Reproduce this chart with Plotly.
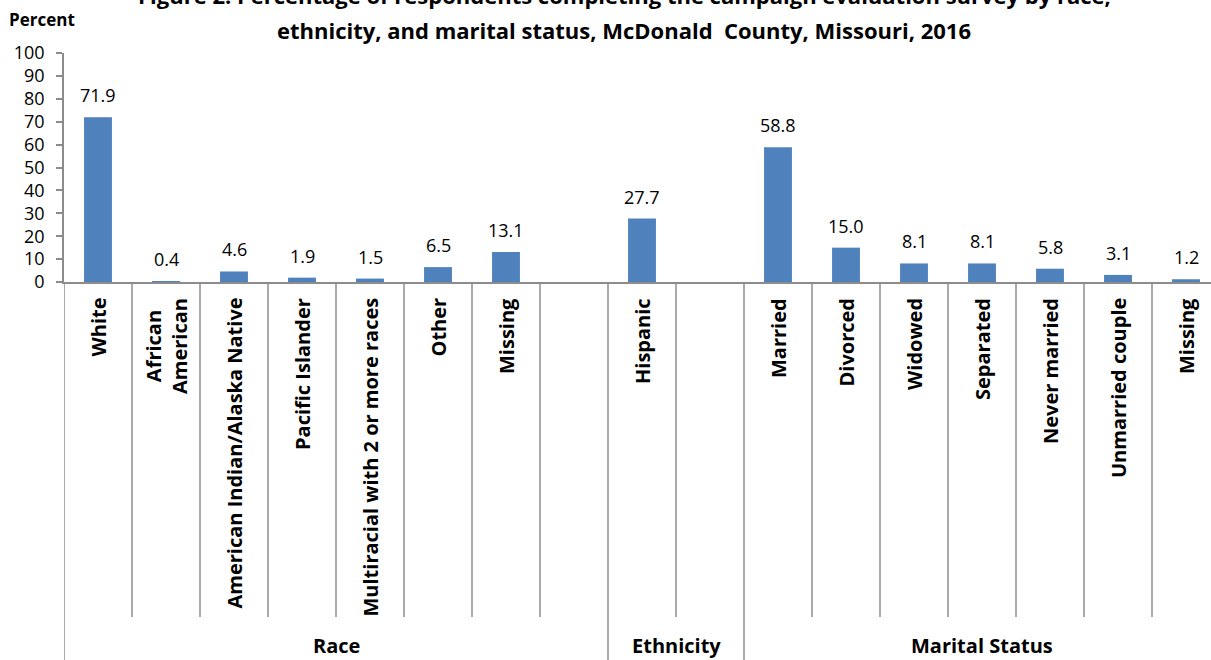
import plotly.graph_objects as go

# Survey categories (17 slots, blank slots separate the groups)
categories = ["White", "African<br>American", "American Indian/Alaska Native", "Pacific Islander",
              "Multiracial with 2 or more races", "Other", "Missing", "",
              "Hispanic", "",
              "Married", "Divorced", "Widowed", "Separated", "Never married",
              "Unmarried couple", "Missing"]
percent = [71.9, 0.4, 4.6, 1.9, 1.5, 6.5, 13.1, None,
           27.7, None,
           58.8, 15.0, 8.1, 8.1, 5.8, 3.1, 1.2]
groups = ["Race", "Ethnicity", "Marital Status"]
group_sizes = [8, 2, 7]
y_ticks = [0, 10, 20, 30, 40, 50, 60, 70, 80, 90, 100]

FONT = "Open Sans"
BAR = "#4F81BD"
GRID = "#8C8C8C"

W, H = 1211, 660
M_L, M_R, M_T, M_B = 64, 0, 53, 378
PLOT_H = H - M_T - M_B
SLOT_PX = 68.0
PLOT_W = W - M_L - M_R


def py(px):
    """pixel row -> paper y"""
    return (H - M_B - px) / PLOT_H


def pxx(px):
    """pixel column -> paper x"""
    return (px - M_L) / PLOT_W


x_idx = list(range(len(categories)))
x_max = -0.5 + PLOT_W / SLOT_PX

fig = go.Figure()
fig.add_trace(go.Bar(
    x=x_idx, y=percent, width=0.41,
    marker=dict(color=BAR, line=dict(width=0)),
    hoverinfo="skip",
))

annotations = []
shapes = []

# value labels above bars
for i, v in zip(x_idx, percent):
    if v is None:
        continue
    annotations.append(dict(
        x=i, y=v, xref="x", yref="y", text=f"{v:.1f}", showarrow=False,
        yanchor="middle", yshift=22,
        font=dict(family=FONT, size=18, color="black"),
    ))

# rotated category labels
for i, c in zip(x_idx, categories):
    if not c:
        continue
    annotations.append(dict(
        x=i, y=py(296), xref="x", yref="paper", text=f"<b>{c}</b>",
        showarrow=False, textangle=-90, yanchor="top", xanchor="center",
        font=dict(family=FONT, size=20, color="black"),
    ))

# dividers between categories and group labels
start = 0
group_edges = set()
for g, n in zip(groups, group_sizes):
    group_edges.add(start - 0.5)
    annotations.append(dict(
        x=start + (n - 1) / 2, y=py(646), xref="x", yref="paper",
        text=f"<b>{g}</b>", showarrow=False, yanchor="middle",
        font=dict(family=FONT, size=20, color="black"),
    ))
    start += n
group_edges.add(start - 0.5)

for k in range(len(categories) + 1):
    xb = k - 0.5
    bottom = py(H + 2) if xb in group_edges else py(617)
    shapes.append(dict(
        type="line", xref="x", yref="paper", x0=xb, x1=xb, y0=0, y1=bottom,
        line=dict(color=GRID, width=1.5),
    ))

# title and axis caption
annotations += [
    dict(x=pxx(624), y=py(-5), xref="paper", yref="paper", showarrow=False,
         text="<b>Figure 2. Percentage of respondents completing the campaign evaluation survey by race,</b>",
         font=dict(family=FONT, size=22, color="black"), xanchor="center", yanchor="middle"),
    dict(x=pxx(624), y=py(30), xref="paper", yref="paper", showarrow=False,
         text="<b>ethnicity, and marital status, McDonald  County, Missouri, 2016</b>",
         font=dict(family=FONT, size=22, color="black"), xanchor="center", yanchor="middle"),
    dict(x=pxx(7), y=py(19), xref="paper", yref="paper", showarrow=False,
         text="<b>Percent</b>", font=dict(family=FONT, size=17, color="black"),
         xanchor="left", yanchor="middle"),
]

fig.update_layout(
    width=W, height=H,
    margin=dict(l=M_L, r=M_R, t=M_T, b=M_B, pad=0),
    paper_bgcolor="white", plot_bgcolor="white",
    showlegend=False,
    annotations=annotations, shapes=shapes,
    xaxis=dict(range=[-0.5, x_max], showgrid=False, zeroline=False,
               showline=True, linecolor=GRID, linewidth=1.5,
               showticklabels=False, ticks=""),
    yaxis=dict(range=[0, 100], tickvals=y_ticks, showgrid=False, zeroline=False,
               showline=True, linecolor=GRID, linewidth=1.5,
               ticks="outside", ticklen=6, tickcolor=GRID, tickwidth=1.5,
               ticklabelstandoff=8,
               tickfont=dict(family=FONT, size=18, color="black")),
)

fig.write_html("out.html")
